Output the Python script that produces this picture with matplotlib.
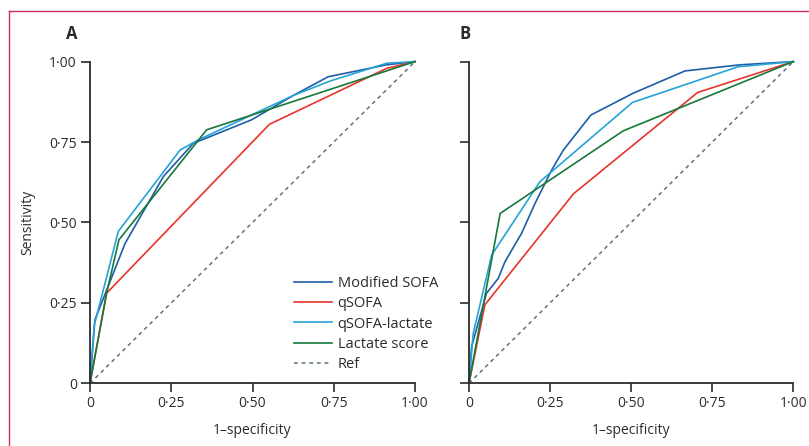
import matplotlib.pyplot as plt
from matplotlib.lines import Line2D
from matplotlib.ticker import FuncFormatter

# -----------------------------------
# ROC curve points (x = 1-specificity, y = sensitivity)
# -----------------------------------
# Panel A
a_msofa_x = [0, 0.015, 0.108, 0.226, 0.318, 0.497, 0.626, 0.733, 0.913, 1.0]
a_msofa_y = [0, 0.197, 0.435, 0.643, 0.746, 0.819, 0.895, 0.953, 0.990, 1.0]
a_qsofa_x = [0, 0.051, 0.552, 0.913, 1.0]
a_qsofa_y = [0, 0.280, 0.805, 0.979, 1.0]
a_qlac_x = [0, 0.013, 0.087, 0.277, 0.330, 0.626, 0.740, 0.913, 1.0]
a_qlac_y = [0, 0.180, 0.472, 0.725, 0.755, 0.895, 0.940, 0.995, 1.0]
a_lac_x = [0, 0.051, 0.089, 0.359, 1.0]
a_lac_y = [0, 0.280, 0.446, 0.788, 1.0]

# Panel B
b_msofa_x = [0, 0.008, 0.054, 0.090, 0.111, 0.162, 0.204, 0.255, 0.291, 0.376, 0.507, 0.666, 0.836, 1.0]
b_msofa_y = [0, 0.114, 0.280, 0.326, 0.378, 0.466, 0.560, 0.663, 0.725, 0.834, 0.902, 0.971, 0.990, 1.0]
b_qsofa_x = [0, 0.049, 0.322, 0.705, 1.0]
b_qsofa_y = [0, 0.244, 0.589, 0.904, 1.0]
b_qlac_x = [0, 0.013, 0.070, 0.219, 0.504, 0.830, 1.0]
b_qlac_y = [0, 0.155, 0.399, 0.627, 0.873, 0.984, 1.0]
b_lac_x = [0, 0.096, 0.476, 1.0]
b_lac_y = [0, 0.528, 0.785, 1.0]

ticks = [0, 0.25, 0.5, 0.75, 1.0]
names = ["Modified SOFA", "qSOFA", "qSOFA-lactate", "Lactate score", "Ref"]
colors = ["#1d5ea8", "#e8332a", "#26a3d6", "#17783a", "#5b7282"]

plt.rcParams["font.family"] = ["Open Sans", "DejaVu Sans"]
plt.rcParams["font.size"] = 10

fig = plt.figure(figsize=(8.09, 4.46), dpi=100)

# pink frame lines
fig.add_artist(Line2D([8.5 / 809, 8.5 / 809], [0, 1 - 11 / 446], color="#c9305a", lw=1.0))
fig.add_artist(Line2D([8.5 / 809, 1], [1 - 11 / 446, 1 - 11 / 446], color="#c9305a", lw=1.0))

axA = fig.add_axes([90 / 809, 62.7 / 446, 325 / 809, 321.7 / 446])
axB = fig.add_axes([469 / 809, 62.7 / 446, 324.3 / 809, 321.7 / 446])


def fmt(v, pos):
    if abs(v) < 1e-9:
        return "0"
    return f"{v:.2f}".replace(".", "\u00b7")


panels = [
    (axA, "A", [(a_msofa_x, a_msofa_y), (a_qsofa_x, a_qsofa_y), (a_qlac_x, a_qlac_y), (a_lac_x, a_lac_y)]),
    (axB, "B", [(b_msofa_x, b_msofa_y), (b_qsofa_x, b_qsofa_y), (b_qlac_x, b_qlac_y), (b_lac_x, b_lac_y)]),
]

for ax, letter, curves in panels:
    ax.plot([0, 1], [0, 1], color=colors[4], lw=1.1, linestyle=(0, (2.5, 2.5)), label=names[4], zorder=1)
    for (xs, ys), c, n in zip(curves, colors[:4], names[:4]):
        ax.plot(xs, ys, color=c, lw=1.2, label=n, zorder=2)
    ax.set_xlim(0, 1)
    ax.set_ylim(0, 1)
    ax.set_xticks(ticks)
    ax.set_yticks(ticks)
    ax.xaxis.set_major_formatter(FuncFormatter(fmt))
    ax.yaxis.set_major_formatter(FuncFormatter(fmt))
    for s in ["top", "right"]:
        ax.spines[s].set_visible(False)
    for s in ["left", "bottom"]:
        ax.spines[s].set_color("#2b2b2b")
        ax.spines[s].set_linewidth(1.3)
    ax.tick_params(direction="out", length=6.5, width=1.2, color="#2b2b2b",
                   labelsize=10, labelcolor="#2b2b2b", pad=3)
    ax.set_xlabel("1\u2013specificity", fontsize=10, color="#2b2b2b", labelpad=8)
    for ln in ax.lines:
        ln.set_clip_on(False)

axA.text(-0.055, 1.085, "A", transform=axA.transAxes, fontsize=12, fontweight="bold",
         ha="center", va="center", color="#2b2b2b")
axB.text(-0.012, 1.085, "B", transform=axB.transAxes, fontsize=12, fontweight="bold",
         ha="center", va="center", color="#2b2b2b")

axA.set_ylabel("Sensitivity", fontsize=10, color="#2b2b2b", labelpad=10)
axB.tick_params(axis="y", labelleft=False)

# legend in panel A, order as in the original
handles, labels = axA.get_legend_handles_labels()
order = [1, 2, 3, 4, 0]
axA.legend([handles[i] for i in order], [labels[i] for i in order],
           loc="upper left", bbox_to_anchor=(0.605, 0.355), frameon=False,
           handlelength=2.6, handletextpad=0.4, labelspacing=0.35,
           borderpad=0, fontsize=10.5, labelcolor="#2b2b2b")

fig.savefig("out.png", dpi=100)
